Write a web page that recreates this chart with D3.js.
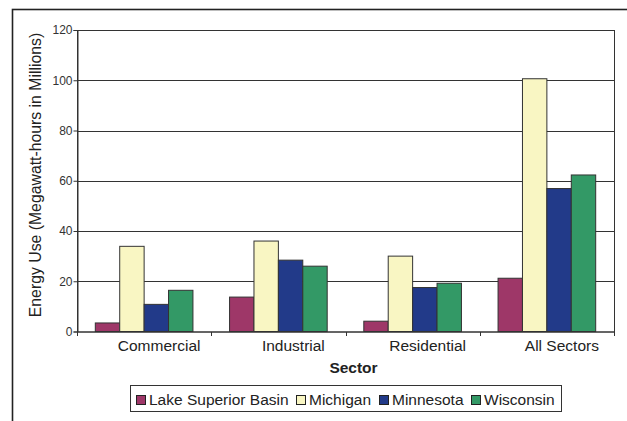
<!DOCTYPE html>
<html><head><meta charset="utf-8">
<script src="https://cdn.jsdelivr.net/npm/d3@7"></script>
<style>
html,body{margin:0;padding:0;background:#fff;}
svg{display:block;font-family:Arial,"Liberation Sans",sans-serif;}
</style></head>
<body>
<script>
const categories = ["Commercial", "Industrial", "Residential", "All Sectors"];
const seriesNames = ["Lake Superior Basin", "Michigan", "Minnesota", "Wisconsin"];
const lakeSuperior = [3.4, 13.7, 4.1, 21.2];
const michigan = [33.9, 36.0, 30.0, 100.6];
const minnesota = [10.8, 28.4, 17.5, 56.9];
const wisconsin = [16.4, 26.0, 19.2, 62.3];
const yTicks = [0, 20, 40, 60, 80, 100, 120];
const colors = ["#9E3768", "#F9F6C3", "#223A89", "#339966"];

const seriesValues = [lakeSuperior, michigan, minnesota, wisconsin];
const W = 627, H = 421;
const plot = {left: 77, top: 30, right: 614, bottom: 331.5};

const svg = d3.select("body").append("svg").attr("width", W).attr("height", H);

// outer frame
svg.append("rect").attr("x", 12.5).attr("y", 9.5).attr("width", 700).attr("height", 500)
  .attr("fill", "none").attr("stroke", "#222").attr("stroke-width", 1.6);

const x = d3.scaleBand().domain(categories).range([plot.left, plot.right]).padding(0);
const xi = d3.scaleBand().domain(seriesNames).range([0, x.bandwidth()]).paddingInner(0).paddingOuter(0.75);
const y = d3.scaleLinear().domain([0, 120]).range([plot.bottom, plot.top]);

// gridlines
svg.append("g").selectAll("line").data(yTicks.filter(d => d > 0 && d < 120)).join("line")
  .attr("x1", plot.left).attr("x2", plot.right)
  .attr("y1", d => Math.round(y(d)) + 0.5).attr("y2", d => Math.round(y(d)) + 0.5)
  .attr("stroke", "#333").attr("stroke-width", 1);

// plot border
svg.append("rect").attr("x", plot.left + 0.5).attr("y", plot.top + 0.5)
  .attr("width", plot.right - plot.left).attr("height", plot.bottom - plot.top)
  .attr("fill", "none").attr("stroke", "#333").attr("stroke-width", 1);

// bars
const groups = svg.append("g").selectAll("g").data(categories).join("g")
  .attr("transform", d => `translate(${x(d)},0)`);
groups.selectAll("rect").data((c, ci) => seriesNames.map((s, si) => ({s, si, v: seriesValues[si][ci]}))).join("rect")
  .attr("x", d => xi(d.s))
  .attr("y", d => y(d.v))
  .attr("width", xi.bandwidth())
  .attr("height", d => y(0) - y(d.v))
  .attr("fill", d => colors[d.si])
  .attr("stroke", "#333").attr("stroke-width", 1);

// y axis
const yAxis = d3.axisLeft(y).tickValues(yTicks).tickSize(4).tickPadding(1);
const gy = svg.append("g").attr("transform", `translate(${plot.left + 0.5},0)`).call(yAxis);
gy.select(".domain").attr("stroke", "#333");
gy.selectAll(".tick line").attr("stroke", "#333");
gy.selectAll(".tick text").attr("font-size", "12px").attr("fill", "#333").attr("font-family", "Arial, 'Liberation Sans', sans-serif");

// x axis: ticks at category boundaries
const gx = svg.append("g").attr("transform", `translate(0,${plot.bottom + 0.5})`);
gx.append("line").attr("x1", plot.left).attr("x2", plot.right + 1).attr("stroke", "#333");
const bounds = categories.map(c => x(c)).concat([x(categories[categories.length - 1]) + x.bandwidth()]);
gx.selectAll("line.tk").data(bounds).join("line").attr("class", "tk")
  .attr("x1", d => Math.round(d) + 0.5).attr("x2", d => Math.round(d) + 0.5)
  .attr("y1", 0).attr("y2", 4).attr("stroke", "#333");
gx.selectAll("text").data(categories).join("text")
  .attr("x", d => x(d) + x.bandwidth() / 2 + 15)
  .attr("y", 19)
  .attr("text-anchor", "middle").attr("font-size", "15.5px").attr("fill", "#222")
  .text(d => d);

// axis titles
svg.append("text").attr("x", 353.5).attr("y", 373).attr("text-anchor", "middle")
  .attr("font-size", "15.5px").attr("font-weight", "bold").attr("fill", "#222").text("Sector");
svg.append("text").attr("transform", "translate(41,175) rotate(-90)").attr("text-anchor", "middle")
  .attr("font-size", "15.8px").attr("fill", "#222").text("Energy Use (Megawatt-hours in Millions)");

// legend
const lg = svg.append("g");
lg.append("rect").attr("x", 130.5).attr("y", 385.5).attr("width", 431).attr("height", 26)
  .attr("fill", "#fff").attr("stroke", "#333").attr("stroke-width", 1);
const legendX = [136, 296, 379, 471];
const items = lg.selectAll("g").data(seriesNames).join("g")
  .attr("transform", (d, i) => `translate(${legendX[i]},0)`);
items.append("rect").attr("x", 0.5).attr("y", 395.5).attr("width", 9).attr("height", 9)
  .attr("fill", (d, i) => colors[i]).attr("stroke", "#222");
items.append("text").attr("x", 13).attr("y", 404.5).attr("font-size", "15.5px").attr("fill", "#222")
  .text(d => d);
</script>
</body></html>
